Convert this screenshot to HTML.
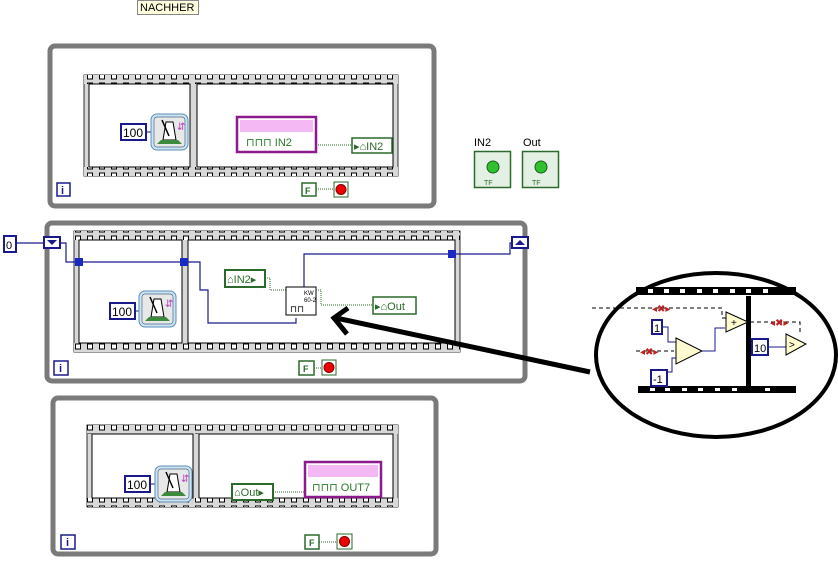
<!DOCTYPE html>
<html><head><meta charset="utf-8"><style>
html,body{margin:0;padding:0;background:#fff;}
svg{display:block;font-family:"Liberation Sans",sans-serif;}
</style></head><body>
<svg width="838" height="563" viewBox="0 0 838 563" xmlns="http://www.w3.org/2000/svg">
<defs>
<pattern id="film" x="0" y="0" width="12" height="9" patternUnits="userSpaceOnUse">
<rect width="12" height="9" fill="#d8d8d8"/>
<rect x="3.5" y="2" width="5" height="5" fill="#fff" stroke="#000" stroke-width="1"/>
</pattern>
<g id="metro">
<rect x="0" y="0" width="37" height="36" rx="6" fill="#cfe3f0" stroke="#5a8fb8"/>
<rect x="3" y="3" width="31" height="30" rx="3" fill="#e8e8e8" stroke="#4a6a8a" stroke-width="0.7"/>
<path d="M12 26 L15 8 L22 8 L25 26 Z" fill="#fff" stroke="#000"/>
<path d="M6 30 L31 30 L27 26 L10 26 Z" fill="#3c8a3c"/>
<line x1="18" y1="22" x2="11" y2="6" stroke="#000" stroke-width="1.5"/>
<text x="26" y="16" font-size="10" fill="#c040c0">⇵</text>
</g>
</defs>

<!-- NACHHER label -->
<rect x="137.5" y="0.5" width="61" height="14" fill="#ffffe0" stroke="#888"/>
<text x="140" y="11" font-size="11">NACHHER</text>

<!-- ===== Loop 1 ===== -->
<rect x="50" y="46" width="384" height="160" rx="5" fill="none" stroke="#7a7a7a" stroke-width="5"/>
<rect x="84" y="75" width="314" height="101" fill="#d8d8d8" stroke="#000" stroke-width="0.8"/>
<rect x="84" y="75" width="314" height="9" fill="url(#film)"/>
<rect x="84" y="167" width="314" height="9" fill="url(#film)"/>
<rect x="89" y="84" width="101" height="83" fill="#fff" stroke="#000"/>
<rect x="197" y="84" width="196" height="83" fill="#fff" stroke="#000"/>
<rect x="121" y="124" width="25" height="16" fill="#fff" stroke="#1a1a8c" stroke-width="2"/>
<text x="123" y="137" font-size="12">100</text>
<line x1="146" y1="132" x2="151" y2="132" stroke="#1a1a8c"/>
<use href="#metro" x="151" y="114"/>
<rect x="237" y="117" width="79" height="35" fill="#fff" stroke="#8c1a8c" stroke-width="2.5"/>
<rect x="240" y="120" width="73" height="12" fill="#f4b8f4"/>
<text x="246" y="146" font-size="11" fill="#2a7a2a">⊓⊓⊓   IN2</text>
<line x1="316" y1="145" x2="352" y2="145" stroke="#2a6a2a" stroke-dasharray="1,1"/>
<rect x="352" y="138" width="40" height="15" fill="#fff" stroke="#2a6a2a" stroke-width="1.5"/>
<text x="354" y="150" font-size="11" fill="#2a6a2a">▸⌂IN2</text>
<rect x="57" y="183" width="13" height="13" fill="#fff" stroke="#1a1a8c" stroke-width="1.5"/>
<text x="61" y="194" font-size="11" fill="#1a1a8c" font-weight="bold">i</text>
<rect x="302" y="183" width="14" height="13" fill="#fff" stroke="#2a6a2a" stroke-width="1.5"/>
<text x="305" y="194" font-size="9" fill="#2a6a2a" font-weight="bold">F</text>
<line x1="316" y1="189" x2="334" y2="189" stroke="#2a6a2a" stroke-dasharray="1,1"/>
<rect x="334" y="182" width="14" height="15" fill="#fff" stroke="#2a6a2a"/>
<circle cx="341" cy="189.5" r="5" fill="#e00" stroke="#800"/>

<!-- indicators -->
<text x="474" y="146" font-size="11">IN2</text>
<rect x="474.5" y="151.5" width="36" height="36" fill="#e4f0e4" stroke="#2a6a2a" stroke-width="1.5"/>
<circle cx="493" cy="167" r="6" fill="#30c030" stroke="#186018"/>
<text x="484" y="185" font-size="7" fill="#2a6a2a">TF</text>
<text x="523" y="146" font-size="11">Out</text>
<rect x="522.5" y="151.5" width="36" height="36" fill="#e4f0e4" stroke="#2a6a2a" stroke-width="1.5"/>
<circle cx="541" cy="167" r="6" fill="#30c030" stroke="#186018"/>
<text x="532" y="185" font-size="7" fill="#2a6a2a">TF</text>

<!-- ===== Loop 2 ===== -->
<rect x="47" y="223" width="478" height="158" rx="5" fill="none" stroke="#7a7a7a" stroke-width="5"/>
<rect x="74" y="231" width="386" height="121" fill="#d8d8d8" stroke="#000" stroke-width="0.8"/>
<rect x="74" y="231" width="386" height="9" fill="url(#film)"/>
<rect x="74" y="343" width="386" height="9" fill="url(#film)"/>
<rect x="79" y="240" width="103" height="103" fill="#fff" stroke="#000"/>
<rect x="188" y="240" width="267" height="103" fill="#fff" stroke="#000"/>
<rect x="4" y="236" width="12" height="16" fill="#fff" stroke="#1a1a8c" stroke-width="2"/>
<text x="6" y="249" font-size="11">0</text>
<rect x="44" y="237" width="16" height="11" fill="#fff" stroke="#1a1a8c" stroke-width="2"/>
<path d="M47 240 L57 240 L52 245 Z" fill="#1a1a8c"/>
<rect x="512" y="237" width="16" height="11" fill="#fff" stroke="#1a1a8c" stroke-width="2"/>
<path d="M515 245 L525 245 L520 240 Z" fill="#1a1a8c"/>
<g fill="none" stroke="#1a1a8c" stroke-width="1.2">
<line x1="16" y1="243" x2="44" y2="243"/>
<polyline points="60,243 66,243 66,262 79,262 200,262 200,290 208,290 208,323 296,323 296,318"/>
<polyline points="304,290 304,254 455,254 510,254 510,243 512,243"/>
</g>
<rect x="75" y="258" width="8" height="8" fill="#1a2ac0"/>
<rect x="180" y="258" width="8" height="8" fill="#1a2ac0"/>
<rect x="448" y="250" width="8" height="8" fill="#1a2ac0"/>
<rect x="110" y="303" width="25" height="16" fill="#fff" stroke="#1a1a8c" stroke-width="2"/>
<text x="112" y="316" font-size="12">100</text>
<line x1="135" y1="311" x2="139" y2="311" stroke="#1a1a8c"/>
<use href="#metro" x="139" y="291"/>
<rect x="225" y="270" width="40" height="17" fill="#fff" stroke="#2a6a2a" stroke-width="2"/>
<text x="227" y="283" font-size="11" fill="#2a6a2a">⌂IN2▸</text>
<polyline points="265,278 270,278 270,290 286,290" fill="none" stroke="#2a6a2a" stroke-dasharray="1,1"/>
<rect x="286" y="287" width="30" height="28" fill="#fff" stroke="#000"/>
<text x="304" y="295" font-size="6">KW</text>
<text x="304" y="302" font-size="6">60-2</text>
<text x="290" y="312" font-size="9">⊓⊓</text>
<polyline points="316,290 321,290 321,305 373,305" fill="none" stroke="#2a6a2a" stroke-dasharray="1,1"/>
<rect x="373" y="297" width="43" height="17" fill="#fff" stroke="#2a6a2a" stroke-width="1.5"/>
<text x="375" y="310" font-size="11" fill="#2a6a2a">▸⌂Out</text>
<rect x="54" y="361" width="14" height="14" fill="#fff" stroke="#1a1a8c" stroke-width="1.5"/>
<text x="59" y="372" font-size="11" fill="#1a1a8c" font-weight="bold">i</text>
<rect x="299" y="361" width="15" height="14" fill="#fff" stroke="#2a6a2a" stroke-width="1.5"/>
<text x="303" y="372" font-size="9" fill="#2a6a2a" font-weight="bold">F</text>
<line x1="314" y1="368" x2="322" y2="368" stroke="#2a6a2a" stroke-dasharray="1,1"/>
<rect x="322" y="360" width="14" height="15" fill="#fff" stroke="#2a6a2a"/>
<circle cx="329" cy="367.5" r="5" fill="#e00" stroke="#800"/>

<!-- ===== Loop 3 ===== -->
<rect x="53" y="398" width="383" height="156" rx="5" fill="none" stroke="#7a7a7a" stroke-width="5"/>
<rect x="87" y="425" width="311" height="82" fill="#d8d8d8" stroke="#000" stroke-width="0.8"/>
<rect x="87" y="425" width="311" height="9" fill="url(#film)"/>
<rect x="87" y="498" width="311" height="9" fill="url(#film)"/>
<rect x="92" y="434" width="101" height="64" fill="#fff" stroke="#000"/>
<rect x="199" y="434" width="194" height="64" fill="#fff" stroke="#000"/>
<rect x="125" y="476" width="25" height="16" fill="#fff" stroke="#1a1a8c" stroke-width="2"/>
<text x="127" y="489" font-size="12">100</text>
<line x1="150" y1="484" x2="155" y2="484" stroke="#1a1a8c"/>
<use href="#metro" x="155" y="466"/>
<rect x="232" y="484" width="41" height="16" fill="#fff" stroke="#2a6a2a" stroke-width="2"/>
<text x="234" y="496" font-size="11" fill="#2a6a2a">⌂Out▸</text>
<line x1="273" y1="492" x2="305" y2="492" stroke="#2a6a2a" stroke-dasharray="1,1"/>
<rect x="305" y="462" width="76" height="35" fill="#fff" stroke="#8c1a8c" stroke-width="2.5"/>
<rect x="308" y="465" width="70" height="12" fill="#f4b8f4"/>
<text x="312" y="491" font-size="11" fill="#2a7a2a">⊓⊓⊓ OUT7</text>
<rect x="61" y="535" width="14" height="14" fill="#fff" stroke="#1a1a8c" stroke-width="1.5"/>
<text x="66" y="546" font-size="11" fill="#1a1a8c" font-weight="bold">i</text>
<rect x="305" y="535" width="14" height="14" fill="#fff" stroke="#2a6a2a" stroke-width="1.5"/>
<text x="309" y="546" font-size="9" fill="#2a6a2a" font-weight="bold">F</text>
<line x1="319" y1="542" x2="337" y2="542" stroke="#2a6a2a" stroke-dasharray="1,1"/>
<rect x="337" y="534" width="15" height="15" fill="#fff" stroke="#2a6a2a"/>
<circle cx="344.5" cy="541.5" r="5" fill="#e00" stroke="#800"/>

<!-- ===== Zoom ellipse ===== -->
<ellipse cx="716" cy="355" rx="120" ry="82" fill="#fff" stroke="#000" stroke-width="4"/>
<rect x="636" y="287" width="160" height="8" fill="#000"/>
<g fill="#fff"><rect x="648" y="289" width="5" height="4"/><rect x="664" y="289" width="5" height="4"/><rect x="680" y="289" width="5" height="4"/><rect x="697" y="289" width="5" height="4"/><rect x="713" y="289" width="5" height="4"/><rect x="730" y="289" width="5" height="4"/><rect x="746" y="289" width="5" height="4"/><rect x="763" y="289" width="5" height="4"/></g>
<rect x="638" y="386" width="158" height="7" fill="#000"/>
<g fill="#fff"><rect x="650" y="388" width="5" height="3"/><rect x="665" y="388" width="5" height="3"/><rect x="682" y="388" width="5" height="3"/><rect x="698" y="388" width="5" height="3"/><rect x="715" y="388" width="5" height="3"/><rect x="732" y="388" width="5" height="3"/><rect x="765" y="388" width="5" height="3"/></g>
<rect x="746" y="296" width="5" height="90" fill="#000"/>
<g fill="none" stroke="#000" stroke-dasharray="4,3">
<polyline points="592,308 722,308 722,318 726,318"/>
<line x1="636" y1="351" x2="674" y2="351"/>
<polyline points="750,322 800,322 800,333"/>
</g>
<text x="652" y="312" font-size="10" fill="#c02020">◂✖▸</text>
<text x="640" y="355" font-size="10" fill="#c02020">◂✖▸</text>
<text x="770" y="326" font-size="10" fill="#c02020">◂✖▸</text>
<rect x="652" y="320" width="10" height="14" fill="#fff" stroke="#1a1a8c" stroke-width="2"/>
<text x="654" y="332" font-size="11">1</text>
<rect x="651" y="370" width="16" height="16" fill="#fff" stroke="#1a1a8c" stroke-width="2"/>
<text x="653" y="383" font-size="11">-1</text>
<g fill="none" stroke="#1a1a8c"><polyline points="662,327 668,327 668,342 676,342"/><polyline points="667,372 672,372 672,358 676,358"/><polyline points="702,351 715,351 715,328 725,328"/><line x1="768" y1="347" x2="786" y2="347"/></g>
<path d="M676 338 L702 351 L676 364 Z" fill="#fffbd0" stroke="#000"/>
<path d="M726 312 L748 322 L726 332 Z" fill="#fffbd0" stroke="#000"/>
<text x="731" y="326" font-size="10">+</text>
<rect x="752" y="339" width="16" height="16" fill="#fff" stroke="#1a1a8c" stroke-width="2"/>
<text x="754" y="352" font-size="11">10</text>
<path d="M786 334 L806 344 L786 355 Z" fill="#fffbd0" stroke="#000"/>
<text x="789" y="348" font-size="10">&gt;</text>

<!-- big arrow -->
<line x1="590" y1="372" x2="336" y2="318" stroke="#000" stroke-width="5"/>
<polyline points="348,308 334,318 347,334" fill="none" stroke="#000" stroke-width="5"/>
</svg>
</body></html>
